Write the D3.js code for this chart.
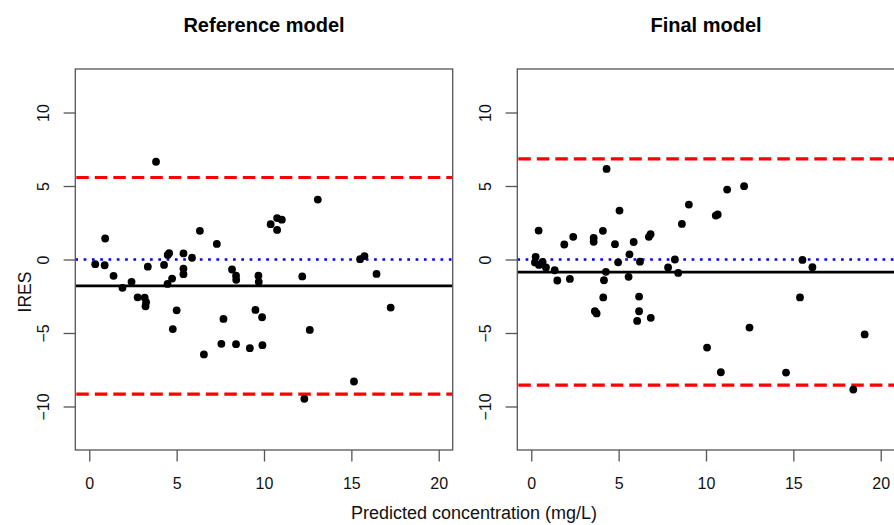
<!DOCTYPE html>
<html>
<head>
<meta charset="utf-8">
<script src="https://cdn.jsdelivr.net/npm/d3@7"></script>
<style>
  body { margin: 0; background: #fff; }
  svg { display: block; font-family: "Liberation Sans", Arial, sans-serif; }
</style>
</head>
<body>
<div id="chart"></div>
<script>
// Reference model: predicted concentration vs IRES
const refX = [0.34, 0.91, 0.88, 1.39, 1.90, 2.42, 2.77, 3.17, 3.25, 3.22, 3.35, 3.82, 4.28, 4.49, 4.57, 4.48, 4.74,
  5.00, 4.78, 5.39, 5.39, 5.39, 5.88, 6.33, 7.30, 6.56, 7.68, 7.56, 8.17, 8.40, 8.41, 8.40, 9.19, 9.51, 9.68,
  9.70, 9.91, 9.89, 10.38, 10.75, 10.75, 11.02, 12.19, 12.31, 12.62, 13.08, 15.15, 15.50, 15.75, 16.44, 17.25];
const refY = [-0.32, 1.43, -0.39, -1.11, -1.93, -1.52, -2.57, -2.59, -2.90, -3.18, -0.49, 6.65, -0.37, 0.31, 0.43,
  -1.66, -1.30, -3.46, -4.73, 0.41, -0.62, -1.00, 0.12, 1.95, 1.06, -6.46, -4.04, -5.74, -0.68, -1.10, -1.38,
  -5.76, -6.03, -3.43, -1.10, -1.52, -5.83, -3.93, 2.40, 2.82, 2.01, 2.71, -1.15, -9.48, -4.79, 4.08, -8.30,
  0.02, 0.23, -0.98, -3.27];
// mean, upper limit, lower limit
const refLines = [-1.79, 5.58, -9.16];

// Final model
const finX = [0.25, 0.42, 0.21, 0.44, 0.65, 0.84, 1.34, 1.49, 1.89, 2.40, 2.21, 3.57, 3.57, 3.64, 3.74, 4.10, 4.31,
  4.27, 4.16, 4.12, 4.79, 5.05, 4.97, 5.57, 5.62, 5.86, 6.22, 6.17, 6.17, 6.06, 6.84, 6.73, 6.83, 7.83, 8.22,
  8.41, 8.62, 9.02, 10.06, 10.56, 10.67, 10.85, 11.21, 12.18, 12.49, 14.58, 15.38, 15.52, 16.09, 18.43, 19.08];
const finY = [0.18, 1.97, -0.20, -0.37, -0.16, -0.54, -0.73, -1.43, 1.02, 1.54, -1.32, 1.47, 1.20, -3.52, -3.67,
  1.95, 6.16, -0.84, -1.41, -2.58, 1.04, 3.33, -0.19, -1.18, 0.35, 1.19, -0.15, -2.52, -3.52, -4.18, -3.97,
  1.54, 1.72, -0.54, 0.00, -0.91, 2.42, 3.74, -5.99, 2.99, 3.06, -7.67, 4.76, 4.99, -4.63, -7.69, -2.58,
  -0.03, -0.52, -8.85, -5.10];
const finLines = [-0.86, 6.84, -8.55];

const xTicks = [0, 5, 10, 15, 20];
const yTicks = [-10, -5, 0, 5, 10];

const width = 894, height = 525;
const svg = d3.select("#chart").append("svg")
  .attr("width", width)
  .attr("height", height);

svg.append("rect").attr("width", width).attr("height", height).attr("fill", "#fff");

function drawPanel(left, title, xs, ys, lines, showYLabel) {
  const top = 69, bottom = 450, right = left + 377.4;

  const x = d3.scaleLinear().domain([-0.8, 20.8]).range([left, right]);
  const y = d3.scaleLinear().domain([-12.96, 12.96]).range([bottom, top]);

  const g = svg.append("g");
  const clipId = "clip" + Math.round(left);
  g.append("clipPath").attr("id", clipId)
    .append("rect")
    .attr("x", left).attr("y", top)
    .attr("width", right - left).attr("height", bottom - top);

  const plot = g.append("g").attr("clip-path", `url(#${clipId})`);

  // zero reference line (blue dotted)
  plot.append("line")
    .attr("x1", left).attr("x2", right)
    .attr("y1", y(0)).attr("y2", y(0))
    .attr("stroke", "#0000ff")
    .attr("stroke-width", 2.7)
    .attr("stroke-dasharray", "2.7,5.6");

  // limits (red dashed)
  [lines[1], lines[2]].forEach((v) => {
    plot.append("line")
      .attr("x1", left + 1).attr("x2", right)
      .attr("y1", y(v)).attr("y2", y(v))
      .attr("stroke", "#ff0000")
      .attr("stroke-width", 3.2)
      .attr("stroke-dasharray", "12.5,6");
  });

  // mean (black solid)
  plot.append("line")
    .attr("x1", left).attr("x2", right)
    .attr("y1", y(lines[0])).attr("y2", y(lines[0]))
    .attr("stroke", "#000")
    .attr("stroke-width", 2.8);

  // points
  plot.selectAll("circle")
    .data(xs)
    .enter()
    .append("circle")
    .attr("cx", (d) => x(d))
    .attr("cy", (d, i) => y(ys[i]))
    .attr("r", 3.9)
    .attr("fill", "#000");

  // box
  g.append("rect")
    .attr("x", left).attr("y", top)
    .attr("width", right - left).attr("height", bottom - top)
    .attr("fill", "none")
    .attr("stroke", "#555")
    .attr("stroke-width", 1.3);

  // x axis
  const xAxis = g.append("g")
    .attr("transform", `translate(0,${bottom})`)
    .call(d3.axisBottom(x).tickValues(xTicks).tickSize(11.5).tickPadding(16).tickFormat(d3.format("d")));
  xAxis.select(".domain").remove();
  xAxis.selectAll(".tick line").attr("stroke", "#555").attr("stroke-width", 1.3);
  xAxis.selectAll("text")
    .attr("font-size", 16)
    .attr("fill", "#111")
    .attr("font-family", "Liberation Sans, Arial, sans-serif");

  // y axis
  const yAxis = g.append("g")
    .attr("transform", `translate(${left},0)`)
    .call(d3.axisLeft(y).tickValues(yTicks).tickSize(11.7).tickFormat(d3.format("d")));
  yAxis.select(".domain").remove();
  yAxis.selectAll(".tick line").attr("stroke", "#555").attr("stroke-width", 1.3);
  yAxis.selectAll("text")
    .attr("transform", "rotate(-90)")
    .attr("x", 0)
    .attr("y", -26.3)
    .attr("dy", null)
    .attr("text-anchor", "middle")
    .attr("font-size", 16)
    .attr("fill", "#111")
    .attr("font-family", "Liberation Sans, Arial, sans-serif");

  // title
  svg.append("text")
    .attr("x", (left + right) / 2)
    .attr("y", 32)
    .attr("text-anchor", "middle")
    .attr("font-size", 20)
    .attr("font-weight", "bold")
    .attr("fill", "#000")
    .text(title);

  if (showYLabel) {
    svg.append("text")
      .attr("transform", `translate(31,292) rotate(-90)`)
      .attr("text-anchor", "middle")
      .attr("font-size", 17.5)
      .attr("fill", "#111")
      .text("IRES");
  }
}

drawPanel(75.3, "Reference model", refX, refY, refLines, true);
drawPanel(517.3, "Final model", finX, finY, finLines, false);

svg.append("text")
  .attr("x", 474)
  .attr("y", 519)
  .attr("text-anchor", "middle")
  .attr("font-size", 18)
  .attr("fill", "#111")
  .text("Predicted concentration (mg/L)");
</script>
</body>
</html>
